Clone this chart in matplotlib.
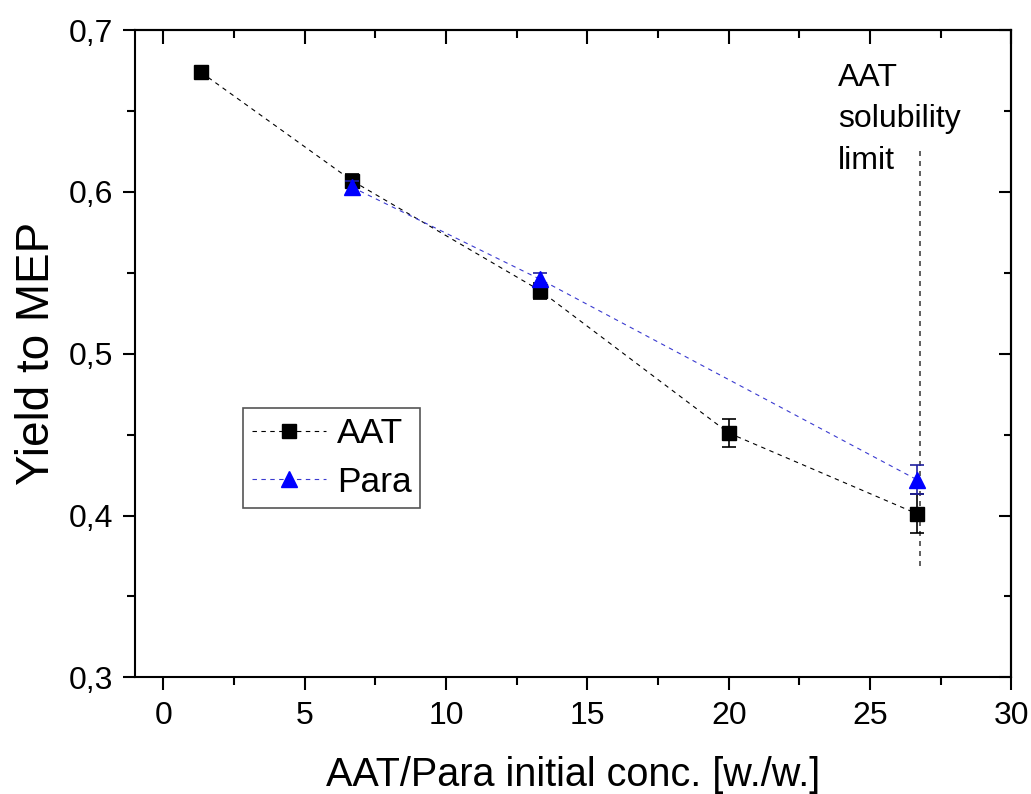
import matplotlib
matplotlib.use("Agg")
import matplotlib.pyplot as plt
from matplotlib.lines import Line2D
from matplotlib.ticker import MultipleLocator, FuncFormatter

plt.rcParams['font.family'] = ['Liberation Sans', 'DejaVu Sans']

# data
aat_x = [1.33, 6.67, 13.33, 20.0, 26.67]
aat_y = [0.674, 0.607, 0.539, 0.451, 0.401]
aat_err = [0.002, 0.004, 0.005, 0.0085, 0.012]

para_x = [6.67, 13.33, 26.67]
para_y = [0.603, 0.546, 0.422]
para_err = [0.004, 0.004, 0.009]

limit_x = 26.78
limit_y = [0.369, 0.626]

fig = plt.figure(figsize=(10.31, 7.94), dpi=100)
ax = fig.add_axes([0.131, 0.147, 0.850, 0.815])

aat_style = dict(color='black', ls=(0, (4, 4)), lw=0.8, marker='s', ms=9.5,
                 mfc='black', mec='black')
para_style = dict(color='#3a3ad0', ls=(0, (4, 4)), lw=0.8, marker='^', ms=11,
                  mfc='#0000ff', mec='#0000ff')

ax.errorbar(aat_x, aat_y, yerr=aat_err, ecolor='black', elinewidth=1.2,
            capsize=5, capthick=1.2, zorder=3, **aat_style)
ax.errorbar(para_x, para_y, yerr=para_err, ecolor='#2020a0', elinewidth=1.2,
            capsize=5, capthick=1.2, zorder=4, **para_style)

ax.plot([limit_x, limit_x], limit_y, color='#444444', ls=(0, (3, 3)), lw=1.2, zorder=2)
ax.text(23.87, 0.680, 'AAT\nsolubility\nlimit', fontsize=23, va='top', ha='left',
        linespacing=1.5)

ax.set_xlim(-1, 30)
ax.set_ylim(0.3, 0.7)
ax.xaxis.set_major_locator(MultipleLocator(5))
ax.xaxis.set_minor_locator(MultipleLocator(2.5))
ax.yaxis.set_major_locator(MultipleLocator(0.1))
ax.yaxis.set_minor_locator(MultipleLocator(0.05))
ax.yaxis.set_major_formatter(FuncFormatter(lambda v, p: f"{v:.1f}".replace('.', ',')))

for s in ax.spines.values():
    s.set_linewidth(1.5)

ax.tick_params(axis='both', which='major', direction='out', length=9, width=1.5,
               labelsize=23)
ax.tick_params(axis='both', which='minor', direction='out', length=5.5, width=1.5)
ax.tick_params(axis='x', which='major', pad=8)
ax.tick_params(axis='y', which='major', pad=7)

# top / right ticks pointing inward
top = ax.secondary_xaxis('top')
top.set_xticks(range(0, 31, 5))
top.xaxis.set_minor_locator(MultipleLocator(2.5))
top.tick_params(which='major', direction='in', length=10, width=1.5, labeltop=False)
top.tick_params(which='minor', direction='in', length=6, width=1.5)
top.spines['top'].set_linewidth(1.5)
right = ax.secondary_yaxis('right')
right.yaxis.set_major_locator(MultipleLocator(0.1))
right.yaxis.set_minor_locator(MultipleLocator(0.05))
right.tick_params(which='major', direction='in', length=9, width=1.5, labelright=False)
right.tick_params(which='minor', direction='in', length=5, width=1.5)
right.spines['right'].set_linewidth(1.5)

ax.set_xlabel('AAT/Para initial conc. [w./w.]', fontsize=28.5, labelpad=18)
ax.set_ylabel('Yield to MEP', fontsize=33, labelpad=7)

handles = [Line2D([], [], **aat_style), Line2D([], [], **para_style)]
leg = ax.legend(handles, ['AAT', 'Para'], loc='upper left',
                bbox_to_anchor=(0.123, 0.416), borderaxespad=0,
                fontsize=25.5, handlelength=2.1, handletextpad=0.3, labelspacing=0.45,
                borderpad=0.25, fancybox=False, framealpha=1, edgecolor='#555555')
leg.get_frame().set_linewidth(1.2)

fig.savefig('out.png', dpi=100)
